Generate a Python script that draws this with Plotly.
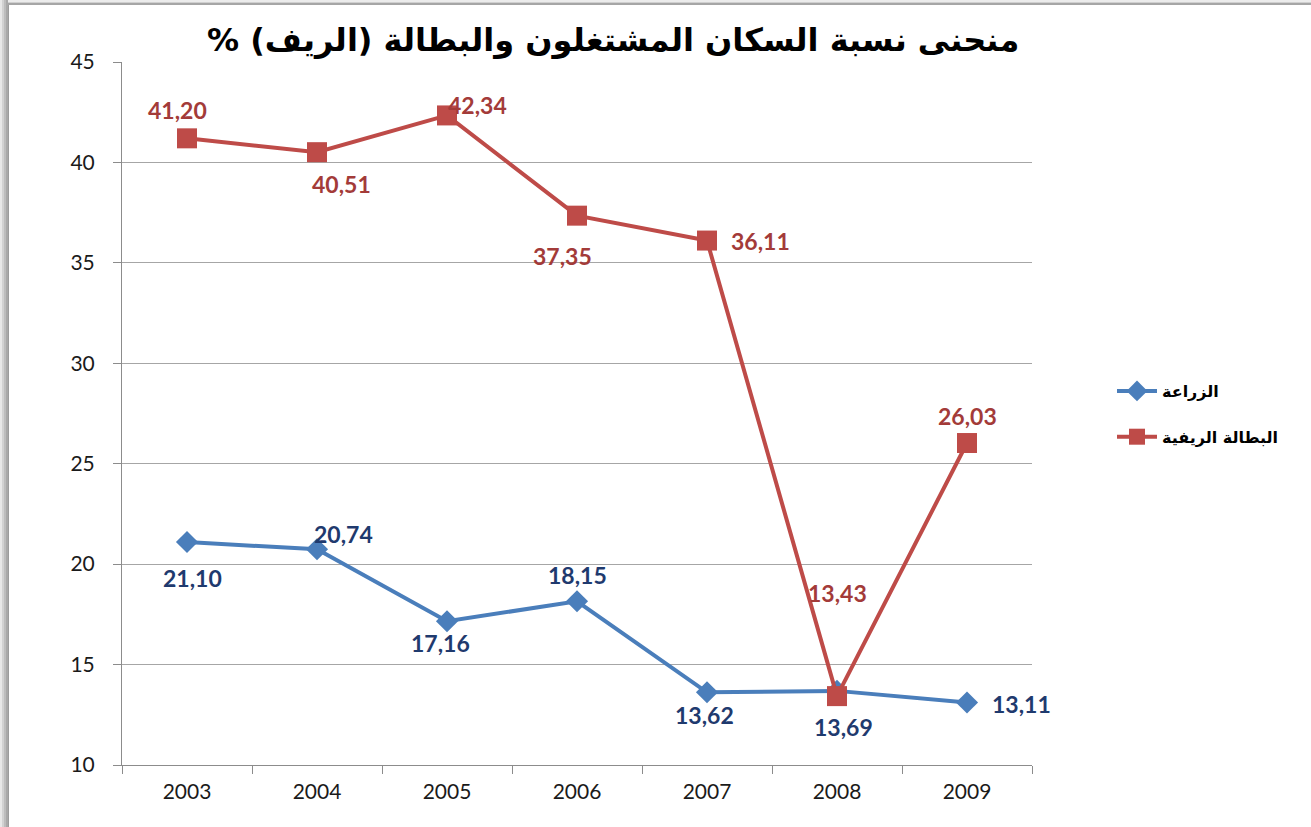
import plotly.graph_objects as go

# Years on the category axis
years = ["2003", "2004", "2005", "2006", "2007", "2008", "2009"]

# Share of employed population in agriculture (rural), %
agriculture = [21.10, 20.74, 17.16, 18.15, 13.62, 13.69, 13.11]

# Rural unemployment rate, %
rural_unemployment = [41.20, 40.51, 42.34, 37.35, 36.11, 13.43, 26.03]

series_names = ["الزراعة", "البطالة الريفية"]
title_text = "% منحنى نسبة السكان المشتغلون والبطالة (الريف)"

y_ticks = [10, 15, 20, 25, 30, 35, 40, 45]

BLUE = "#4A7EBB"
RED = "#BE4B48"
BLUE_LABEL = "#1F3A6E"
RED_LABEL = "#A33B39"

# pixel offsets of each value label relative to its marker
blue_offsets = [(5, -36), (26, 15), (-7, -22), (0, 26), (-3, -23), (6, -36), (54, -1)]
red_offsets = [(-10, 28), (24, -32), (30, 10), (-15, -40), (53, 0), (0, 103), (0, 27)]

W, H = 1311, 827
ML, MR, MT, MB = 122, 279, 62, 62
PW, PH = W - ML - MR, H - MT - MB


def fmt(v):
    return f"{v:.2f}".replace(".", ",")


def px_x(p):
    return (p - ML) / PW


def px_y(p):
    return (H - MB - p) / PH


fig = go.Figure()

fig.add_trace(go.Scatter(
    x=years, y=agriculture, name=series_names[0], mode="lines+markers",
    line=dict(color=BLUE, width=4),
    marker=dict(symbol="diamond", size=17, color=BLUE),
    legendgroup="a",
))
fig.add_trace(go.Scatter(
    x=years, y=rural_unemployment, name=series_names[1], mode="lines+markers",
    line=dict(color=RED, width=4),
    marker=dict(symbol="square", size=20, color=RED),
    legendgroup="b",
))

label_font = dict(family="Lato, Open Sans, sans-serif", size=23)
annotations = []
# value labels; category positions are given by index along the axis
for i, (v, (dx, dy)) in enumerate(zip(agriculture, blue_offsets)):
    annotations.append(dict(
        x=i, y=v, xref="x", yref="y", text=f"<b>{fmt(v)}</b>", showarrow=False,
        xshift=dx, yshift=dy, font=dict(color=BLUE_LABEL, **label_font),
    ))
for i, (v, (dx, dy)) in enumerate(zip(rural_unemployment, red_offsets)):
    annotations.append(dict(
        x=i, y=v, xref="x", yref="y", text=f"<b>{fmt(v)}</b>", showarrow=False,
        xshift=dx, yshift=dy, font=dict(color=RED_LABEL, **label_font),
    ))

# chart title
annotations.append(dict(
    x=px_x(613), y=px_y(40), xref="paper", yref="paper", showarrow=False,
    text=f"<b>{title_text}</b>", xanchor="center", yanchor="middle",
    font=dict(family="DejaVu Sans", size=32, color="#000000"),
))

# frame shading along the left and top edges
shapes = []
left_strip = [(0, 2, "#e8e8e8"), (2, 4, "#d2d2d2"), (4, 6, "#bdbdbd"), (6, 8, "#a9a9a9"), (8, 9, "#9c9c9c")]
for x0, x1, c in left_strip:
    shapes.append(dict(type="rect", xref="paper", yref="paper",
                       x0=px_x(x0), x1=px_x(x1), y0=px_y(H), y1=px_y(0),
                       fillcolor=c, line=dict(width=0), layer="above"))
top_strip = [(0, 2, "#ececec"), (2, 3, "#d0d0d0"), (3, 5, "#a6a6a6")]
for y0, y1, c in top_strip:
    shapes.append(dict(type="rect", xref="paper", yref="paper",
                       x0=px_x(8), x1=px_x(W), y0=px_y(y1), y1=px_y(y0),
                       fillcolor=c, line=dict(width=0), layer="above"))

tick_font = dict(family="Lato, Open Sans, sans-serif", size=21, color="#1a1a1a")

fig.update_layout(
    width=W, height=H,
    margin=dict(l=ML, r=MR, t=MT, b=MB),
    paper_bgcolor="white", plot_bgcolor="white",
    showlegend=True,
    legend=dict(
        x=px_x(1112), y=px_y(414), xanchor="left", yanchor="middle",
        font=dict(family="DejaVu Sans", size=16, color="#000000", weight="bold"),
        tracegroupgap=22, bgcolor="rgba(0,0,0,0)", itemwidth=40,
    ),
    xaxis=dict(
        type="category", categoryorder="array", categoryarray=years,
        range=[-0.5, 6.5], tickson="boundaries",
        showline=True, linecolor="#8c8c8c", linewidth=1,
        ticks="outside", ticklen=8, tickcolor="#8c8c8c",
        showgrid=False, tickfont=tick_font, ticklabelstandoff=8,
        zeroline=False,
    ),
    yaxis=dict(
        range=[10, 45], tickvals=y_ticks,
        showline=True, linecolor="#8c8c8c", linewidth=1,
        ticks="outside", ticklen=8, tickcolor="#8c8c8c",
        showgrid=True, gridcolor="#a6a6a6", gridwidth=1,
        tickfont=tick_font, ticklabelstandoff=14, zeroline=False,
    ),
    annotations=annotations,
    shapes=shapes,
)

fig.write_html("out.html")
